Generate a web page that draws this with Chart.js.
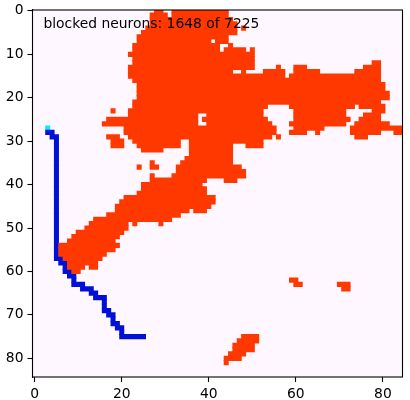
<!DOCTYPE html>
<html>
<head>
<meta charset="utf-8">
<title>blocked neurons</title>
<script src="https://cdn.jsdelivr.net/npm/chart.js@4"></script>
<style>
    html, body { margin: 0; padding: 0; background: #fff; }
    #grid { display: block; }
</style>
</head>
<body>
<canvas id="grid" width="410" height="400"></canvas>
<script>
// --- data: each run is [row, firstCol, lastCol] ---
const blockedRuns = [
    [0,28,29],[0,32,44],[1,27,30],[1,32,44],[2,27,45],[3,27,46],[4,26,46],[4,48,48],[5,25,46],[6,24,44],
    [7,24,40],[7,42,44],[8,23,42],[8,45,45],[9,23,42],[9,44,48],[9,50,50],[10,22,50],[11,23,50],
    [12,23,50],[12,78,79],[13,22,50],[13,56,56],[13,60,62],[13,76,79],
    [14,22,45],[14,48,48],[14,53,57],[14,60,65],[14,74,79],[15,22,57],[15,59,79],
    [16,23,79],[17,24,80],[18,24,80],[19,24,81],[20,24,81],[21,23,79],
    [22,23,53],[22,59,73],[22,75,80],[23,18,18],[23,22,52],[23,60,71],[23,78,80],
    [24,22,37],[24,40,52],[24,60,71],[24,76,79],[25,17,37],[25,39,53],[25,60,72],[25,75,79],
    [26,16,37],[26,40,54],[26,59,71],[26,74,81],[27,21,55],[27,60,66],[27,73,84],
    [28,21,55],[28,59,62],[28,65,65],[28,73,79],[28,83,84],[29,17,19],[29,22,54],[29,56,56],[29,74,76],
    [30,18,20],[30,23,33],[30,36,52],[31,18,20],[31,24,33],[31,36,45],[31,49,52],
    [32,25,29],[32,36,45],[33,36,45],[34,35,45],[35,27,27],[35,34,45],
    [36,24,24],[36,27,28],[36,33,47],[37,33,48],[38,27,27],[38,32,48],[39,27,39],[39,44,46],
    [40,25,38],[41,25,39],[42,24,39],[43,21,41],[44,20,41],[45,19,40],[46,19,35],[46,37,39],
    [47,17,33],[48,14,31],[49,13,21],[49,23,23],[49,29,29],[50,12,21],[51,10,20],[52,9,19],
    [53,8,18],[54,6,19],[55,6,18],[56,6,16],[57,7,15],[58,8,14],[59,8,11],[59,13,14],[60,9,10],
    [62,59,60],[63,60,61],[63,70,72],[64,71,72],
    [75,48,51],[76,47,51],[77,46,50],[78,46,50],[79,45,48],[80,44,47],[81,44,44]
];
const pathRuns = [
    [28,3,4],[29,4,5],[30,5,5],[31,5,5],[32,5,5],[33,5,5],[34,5,5],[35,5,5],[36,5,5],[37,5,5],
    [38,5,5],[39,5,5],[40,5,5],[41,5,5],[42,5,5],[43,5,5],[44,5,5],[45,5,5],[46,5,5],[47,5,5],
    [48,5,5],[49,5,5],[50,5,5],[51,5,5],[52,5,5],[53,5,5],[54,5,5],[55,5,5],[56,5,5],[57,5,6],
    [58,6,7],[59,7,7],[60,7,8],[61,8,9],[62,9,9],[63,9,11],[64,11,13],[65,13,14],[66,14,16],
    [67,16,16],[68,16,16],[69,16,17],[70,17,18],[71,18,18],[72,18,19],[73,19,20],[74,20,20],[75,20,25]
];
const startRuns = [[27,3,3]];

const xTickValues = [0, 20, 40, 60, 80];
const yTickValues = [0, 10, 20, 30, 40, 50, 60, 70, 80];
const xRange = [-0.5, 84.5];
const yRange = [-0.2, 84.3];

const captionText = 'blocked neurons: 1648 of 7225';
const captionAt = [2, 4];

const FONT = '"DejaVu Sans"';

function toBars(runs) {
    return runs.map(r => ({ y: r[0], x: [r[1] - 0.5, r[2] + 0.5] }));
}

function cellDataset(label, runs, color) {
    return {
        label: label,
        data: toBars(runs),
        backgroundColor: color,
        borderWidth: 0,
        barThickness: 4.6
    };
}

// plot background, the frame on all four sides and the caption
const framePlugin = {
    id: 'frame',
    beforeDatasetsDraw(chart) {
        const a = chart.chartArea;
        chart.ctx.save();
        chart.ctx.fillStyle = '#fef7ff';
        chart.ctx.fillRect(a.left, a.top, a.width, a.height);
        chart.ctx.restore();
    },
    afterDraw(chart) {
        const a = chart.chartArea;
        const ctx = chart.ctx;
        ctx.save();
        ctx.strokeStyle = '#000';
        ctx.lineWidth = 1.1;
        ctx.strokeRect(a.left, a.top, a.width, a.height);
        ctx.fillStyle = '#000';
        ctx.font = '13.89px ' + FONT;
        ctx.textBaseline = 'alphabetic';
        ctx.fillText(captionText, chart.scales.x.getPixelForValue(captionAt[0]), chart.scales.y.getPixelForValue(captionAt[1]));
        ctx.restore();
    }
};

function axisOptions(range, tickValues) {
    return {
        type: 'linear',
        min: range[0],
        max: range[1],
        offset: false,
        afterBuildTicks: scale => { scale.ticks = tickValues.map(v => ({ value: v })); },
        grid: { offset: false, drawOnChartArea: false, tickLength: 5, tickWidth: 1.1, tickColor: '#000' },
        border: { color: '#000', width: 1.1 },
        ticks: {
            autoSkip: false, maxRotation: 0, padding: 4, color: '#000',
            font: { family: FONT, size: 13.89 }
        }
    };
}

// fixed axis sizes so the plot box stays where it is in the picture
const xAxis = axisOptions(xRange, xTickValues);
xAxis.afterFit = scale => { scale.height = 23; scale.paddingLeft = 0; scale.paddingRight = 0; };
const yAxis = axisOptions(yRange, yTickValues);
yAxis.reverse = true;
yAxis.afterFit = scale => { scale.width = 32.5; scale.paddingTop = 0; scale.paddingBottom = 0; };

new Chart(document.getElementById('grid'), {
    type: 'bar',
    data: {
        datasets: [
            cellDataset('blocked', blockedRuns, '#ff3800'),
            cellDataset('path', pathRuns, '#0010d4'),
            cellDataset('start', startRuns, '#00eeff')
        ]
    },
    options: {
        indexAxis: 'y',
        responsive: false,
        animation: false,
        grouped: false,
        layout: { padding: { top: 10, right: 7.5, left: 0, bottom: 0 } },
        plugins: { legend: { display: false }, tooltip: { enabled: false } },
        scales: { x: xAxis, y: yAxis }
    },
    plugins: [framePlugin]
});
</script>
</body>
</html>
